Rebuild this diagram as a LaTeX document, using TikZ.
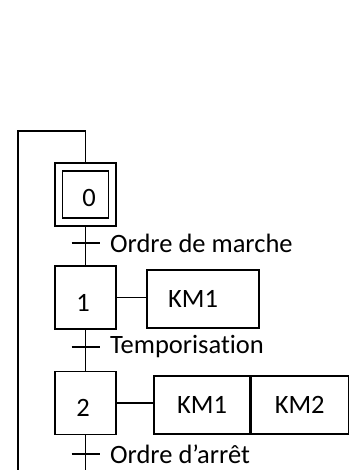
\documentclass[tikz,border=0pt]{standalone}
\usepackage{fontspec}
\setmainfont{Carlito}[Ligatures=NoCommon]
\usetikzlibrary{positioning}

\begin{document}
\begin{tikzpicture}[x=1pt,y=-1pt,line width=1.2pt,
  font=\fontsize{26.5}{30}\selectfont,
  etape/.style={draw,minimum width=61pt,minimum height=63pt,inner sep=0pt},
  action/.style={draw,minimum height=58pt,inner sep=0pt},
  recept/.style={right=24pt of #1,anchor=west,inner sep=0pt}]
\useasboundingbox (0,0) rectangle (354,470);
% etapes
\node[etape] (e0) at (85.5,194.5) {};
\node[draw,minimum width=46pt,minimum height=47pt,inner sep=0pt] (e0i) at (e0) {};
\node[etape] (e1) at (85.5,297.5) {};
\node[etape] (e2) at (85.5,403) {};
\node (n0) at (89,198) {0}; \node (n1) at (83,303) {1}; \node (n2) at (83,408) {2};
% actions
\node[action,minimum width=112pt] (a1) at (203,299) {\hspace*{-20pt}KM1};
\node[action,minimum width=96pt] (a2) at (202,405) {KM1};
\node[action,minimum width=97pt,anchor=west] (a3) at (a2.east) {KM2};
\draw (e1.east) -- (e1.east -| a1.west);
\draw (e2.east) -- (e2.east -| a2.west);
% transitions
\coordinate (t1) at (85.5,243); \coordinate (t2) at (85.5,347);
\coordinate (t3) at (85.5,454); \coordinate (fin) at (85.5,470);
\draw (e0.south) -- (e1.north); \draw (e1.south) -- (e2.north);
\draw (e2.south) -- (fin);
\foreach \t in {t1,t2,t3} \draw ([xshift=-14pt]\t) -- ([xshift=14pt]\t);
\node[recept=t1] (r1) {Ordre de marche};
\node[recept=t2] (r2) {Temporisation};
\node[recept=t3] (r3) {Ordre d’arrêt};
% renvoi
\coordinate (bas) at (18,470); \coordinate (haut) at (18,131);
\draw (bas) -- (haut) -| (e0.north);
\end{tikzpicture}
\end{document}
